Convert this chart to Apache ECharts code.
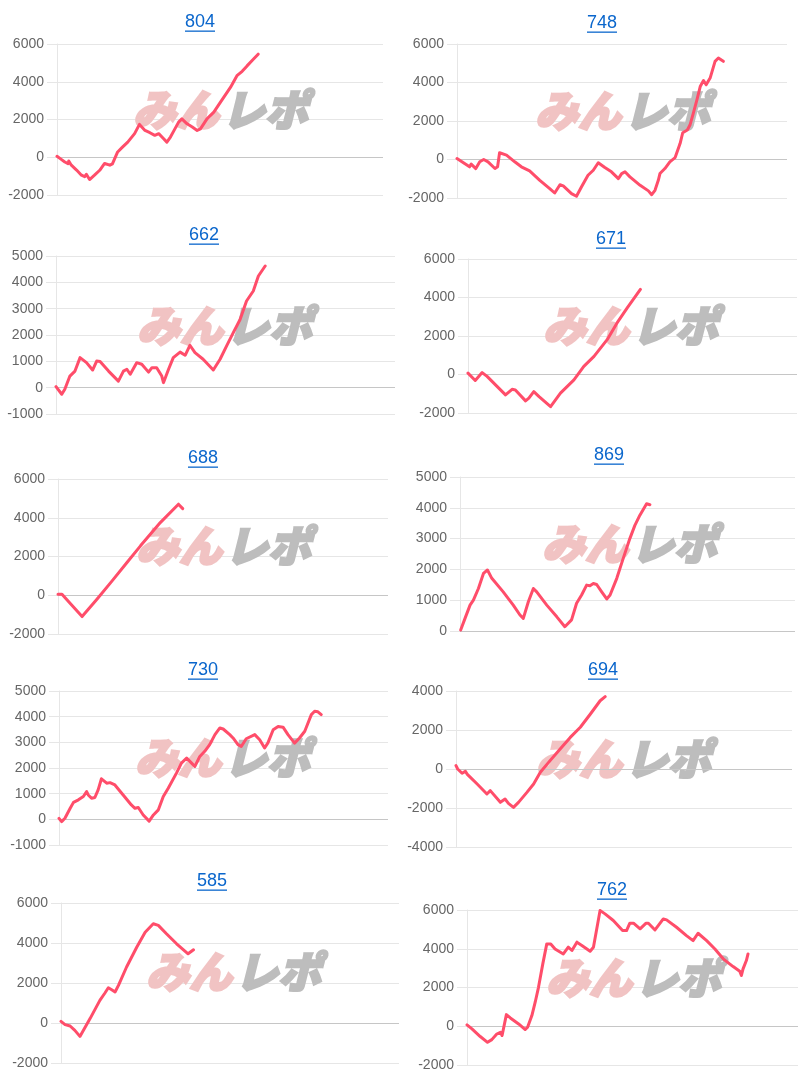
<!DOCTYPE html>
<html>
<head>
<meta charset="utf-8">
<script src="https://cdn.jsdelivr.net/npm/echarts@6/dist/echarts.min.js"></script>
<style>
html,body{margin:0;padding:0;background:#fff;}
#c{width:800px;height:1080px;}
</style>
</head>
<body>
<div id="c"></div>
<script>
// ---- data (x = progress along the run, 0..1000 of the axis; y = difference) ----
const titles = ['804','748','662','671','688','869','730','694','585','762'];

const s804 = [[0,50],[12,-100],[24,-250],[34,-340],[36,-200],[44,-420],[60,-680],[75,-950],[85,-1030],[90,-900],[100,-1180],[115,-950],[131,-690],[146,-330],[151,-250],[162,-420],[170,-350],[186,280],[200,520],[217,800],[238,1250],[253,1740],[270,1420],[285,1300],[300,1160],[312,1250],[325,1020],[337,800],[348,1070],[360,1450],[373,1860],[383,2030],[399,1770],[415,1600],[430,1420],[440,1500],[460,2030],[481,2390],[501,2910],[532,3700],[552,4320],[568,4550],[583,4840],[600,5150],[617,5460]];
const s748 = [[0,50],[23,-210],[38,-380],[43,-240],[57,-470],[69,-120],[81,0],[84,100],[94,-120],[115,-470],[123,-380],[129,350],[135,400],[150,230],[175,-120],[195,-380],[200,-300],[220,-590],[251,-1080],[281,-1510],[296,-1740],[312,-1310],[322,-1370],[347,-1770],[362,-1910],[377,-1430],[397,-820],[413,-560],[428,-170],[448,-420],[468,-640],[489,-990],[499,-730],[509,-640],[524,-900],[555,-1340],[580,-1630],[590,-1830],[600,-1600],[610,-1080],[615,-730],[630,-470],[645,-120],[661,100],[676,830],[684,1390],[698,1530],[706,1790],[716,2400],[727,3100],[737,3790],[747,4100],[755,3880],[767,4230],[782,5100],[792,5270],[807,5100]];
const s662 = [[0,40],[17,-250],[26,-60],[41,440],[56,630],[71,1140],[90,950],[108,670],[120,1010],[130,990],[155,630],[184,250],[199,630],[209,700],[219,510],[238,950],[253,890],[273,590],[283,760],[297,760],[312,440],[317,190],[332,700],[346,1140],[366,1350],[381,1230],[395,1610],[410,1330],[434,1080],[464,670],[484,1080],[503,1580],[523,2090],[543,2590],[562,3290],[582,3670],[597,4240],[617,4620]];
const s671 = [[0,70],[22,-310],[43,100],[58,-100],[89,-630],[114,-1060],[134,-770],[144,-800],[175,-1370],[185,-1230],[200,-890],[216,-1150],[251,-1670],[256,-1760],[281,-970],[322,-280],[352,420],[383,940],[423,1810],[453,2680],[484,3460],[524,4420]];
const s688 = [[0,50],[12,50],[40,-480],[73,-1100],[77,-1030],[118,-210],[164,740],[209,1690],[250,2550],[310,3750],[365,4700],[378,4470]];
const s869 = [[2,30],[15,410],[30,840],[40,1000],[55,1380],[70,1870],[82,1980],[95,1710],[129,1270],[159,840],[179,520],[189,410],[204,950],[219,1380],[229,1270],[259,840],[289,460],[313,140],[333,360],[348,900],[363,1170],[378,1490],[388,1470],[398,1540],[408,1510],[423,1270],[438,1040],[448,1170],[468,1710],[487,2350],[507,3000],[522,3430],[537,3760],[557,4130],[567,4100]];
const s730 = [[0,40],[8,-90],[18,40],[34,430],[44,660],[59,760],[74,890],[84,1080],[89,950],[99,820],[109,850],[119,1150],[129,1580],[145,1410],[155,1430],[170,1340],[195,950],[220,560],[231,430],[241,460],[256,170],[274,-70],[287,170],[302,370],[317,890],[332,1210],[357,1800],[372,2190],[388,2390],[403,2190],[413,2060],[428,2450],[443,2650],[458,2910],[474,3300],[489,3560],[499,3520],[519,3300],[529,3170],[544,2910],[554,2840],[569,3140],[595,3300],[610,3100],[625,2780],[635,2980],[651,3490],[666,3620],[681,3590],[696,3300],[716,2970],[731,3170],[747,3430],[767,4080],[777,4210],[787,4190],[797,4080]];
const s694 = [[0,170],[5,0],[18,-220],[28,-120],[33,-260],[63,-770],[92,-1280],[102,-1110],[107,-1200],[132,-1710],[146,-1540],[156,-1760],[171,-1970],[186,-1710],[211,-1200],[231,-770],[251,-170],[280,430],[310,1030],[340,1620],[370,2140],[400,2820],[429,3500],[444,3710]];
const s585 = [[0,80],[12,-80],[27,-150],[41,-370],[56,-670],[61,-620],[86,220],[115,1130],[130,1500],[140,1760],[150,1660],[160,1550],[170,1880],[194,2800],[224,3790],[249,4540],[273,4960],[288,4880],[312,4460],[342,3960],[376,3460],[381,3490],[392,3660]];
const s762 = [[0,70],[15,-140],[40,-530],[62,-830],[75,-690],[90,-400],[101,-310],[106,-480],[119,600],[131,430],[156,120],[176,-170],[183,-50],[196,550],[206,1240],[216,2010],[229,3220],[241,4250],[253,4250],[266,3990],[291,3730],[306,4080],[317,3910],[332,4340],[347,4170],[372,3870],[382,4080],[402,5970],[417,5800],[442,5460],[470,4940],[482,4940],[492,5320],[503,5320],[523,5030],[541,5320],[548,5320],[568,4970],[593,5540],[603,5490],[633,5110],[663,4680],[683,4420],[698,4800],[724,4420],[749,3990],[774,3480],[804,3080],[824,2840],[829,2620],[834,2960],[844,3390],[849,3730]];

const yMin  = [-2000,-2000,-1000,-2000,-2000,0,-1000,-4000,-2000,-2000];
const yMax  = [6000,6000,5000,6000,6000,5000,5000,4000,6000,6000];
const yStep = [2000,2000,1000,2000,2000,1000,1000,2000,2000,2000];

const allSeries = [s804,s748,s662,s671,s688,s869,s730,s694,s585,s762];

// ---- layout (pixels) ----
const layout = [
  {l:57, t:44,  r:383, b:195,  tx:200, ty:22,  wx:218, wy:110},
  {l:457,t:44,  r:787, b:198,  tx:602, ty:23,  wx:620, wy:111},
  {l:56, t:256, r:395, b:414,  tx:204, ty:235, wx:222, wy:326},
  {l:468,t:259, r:797, b:413,  tx:611, ty:239, wx:628, wy:326},
  {l:58, t:479, r:388, b:634,  tx:203, ty:458, wx:221, wy:546},
  {l:460,t:477, r:795, b:631,  tx:609, ty:455, wx:627, wy:544},
  {l:59, t:691, r:388, b:845,  tx:203, ty:670, wx:220, wy:758},
  {l:456,t:691, r:792, b:847,  tx:603, ty:670, wx:621, wy:759},
  {l:61, t:903, r:399, b:1063, tx:212, ty:881, wx:231, wy:972},
  {l:467,t:910, r:798, b:1065, tx:612, ty:890, wx:631, wy:978}
];

const LINE = '#ff4d6a';
const GRID = '#e6e6e6';
const ZERO = '#c6c6c6';
const LINK = '#0a66cc';
const FONT = '"Liberation Sans", Arial, sans-serif';

const mctx = document.createElement('canvas').getContext('2d');
mctx.font = '18px ' + FONT;

const grids = [], xAxes = [], yAxes = [], series = [], graphics = [];
layout.forEach((L, i) => {
  grids.push({left:L.l, top:L.t, width:L.r-L.l, height:L.b-L.t, containLabel:false});
  xAxes.push({type:'value', gridIndex:i, min:0, max:1000, show:false});
  yAxes.push({
    type:'value', gridIndex:i, min:yMin[i], max:yMax[i], interval:yStep[i],
    axisLine:{show:true, lineStyle:{color:GRID, width:1}},
    axisTick:{show:true, length:10, lineStyle:{color:GRID}},
    splitLine:{show:true, lineStyle:{color:GRID, width:1}},
    axisLabel:{color:'#666', fontSize:14, margin:13, fontFamily:FONT, formatter:v => String(v)}
  });
  series.push({
    type:'line', xAxisIndex:i, yAxisIndex:i, data:allSeries[i],
    showSymbol:false, symbol:'none', z:5,
    lineStyle:{color:LINE, width:3, join:'round', cap:'round'},
    markLine:{silent:true, symbol:'none', label:{show:false},
      lineStyle:{color:ZERO, width:1, type:'solid'}, data:[{yAxis:0}], z:1}
  });
  // title with underline
  const w = mctx.measureText(titles[i]).width;
  graphics.push({type:'text', x:L.tx, y:L.ty, z:10,
    style:{text:titles[i], fill:LINK, font:'18px ' + FONT, textAlign:'center', textVerticalAlign:'middle'}});
  graphics.push({type:'rect', shape:{x:L.tx - w/2, y:L.ty + 8.5, width:w, height:1.3}, z:10,
    style:{fill:LINK}});
  // watermark
  graphics.push({type:'text', x:L.wx + 1, y:L.wy, z:1,
    style:{text:'みん', fill:'#f1c3c3', stroke:'#f1c3c3', lineWidth:2.5, fontSize:43, fontWeight:900, fontStyle:'italic',
      fontFamily:'"Noto Sans CJK JP"', textAlign:'right', textVerticalAlign:'middle'}});
  graphics.push({type:'text', x:L.wx + 4, y:L.wy, z:1,
    style:{text:'レポ', fill:'#bdbdbd', stroke:'#bdbdbd', lineWidth:2.5, fontSize:43, fontWeight:900, fontStyle:'italic',
      fontFamily:'"Noto Sans CJK JP"', textAlign:'left', textVerticalAlign:'middle'}});
});

const chart = echarts.init(document.getElementById('c'));
chart.setOption({
  animation:false,
  backgroundColor:'#fff',
  grid:grids, xAxis:xAxes, yAxis:yAxes, series:series,
  graphic:{elements:graphics}
});
</script>
</body>
</html>
